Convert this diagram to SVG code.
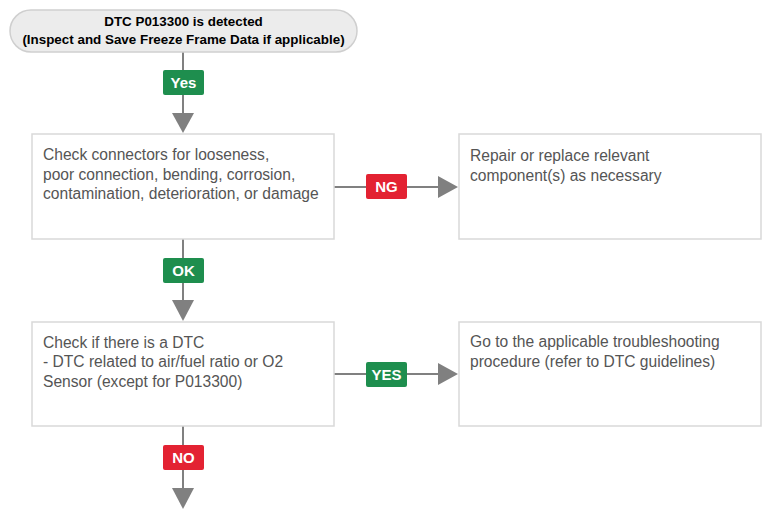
<svg xmlns="http://www.w3.org/2000/svg" width="771" height="518" viewBox="0 0 771 518">
<style>
.box{fill:#fff;stroke:#d9d9d9;stroke-width:1.5}
.pill{fill:#ececec;stroke:#cfcfcf;stroke-width:1.5}
.t{font-family:"Liberation Sans",Arial,sans-serif;font-size:15.6px;fill:#555}
.tt{font-family:"Liberation Sans",Arial,sans-serif;font-size:13.4px;font-weight:bold;fill:#000;text-anchor:middle}
.ln{stroke:#808080;stroke-width:2;fill:none}
.ah{fill:#808080}
.g{fill:#1e8e4e}
.r{fill:#e32232}
.lt{font-family:"Liberation Sans",Arial,sans-serif;font-size:15px;font-weight:bold;fill:#fff;text-anchor:middle}
</style>
<rect width="771" height="518" fill="#fff"/>
<g id="connectors">
<line class="ln" x1="183" y1="52" x2="183" y2="114"/>
<polygon class="ah" points="172,113 194,113 183,133"/>
<line class="ln" x1="183" y1="239" x2="183" y2="301"/>
<polygon class="ah" points="172,300 194,300 183,321"/>
<line class="ln" x1="183" y1="426" x2="183" y2="489"/>
<polygon class="ah" points="172,488 194,488 183,509"/>
<line class="ln" x1="334" y1="187" x2="439" y2="187"/>
<polygon class="ah" points="438,176 438,198 458,187"/>
<line class="ln" x1="334" y1="374" x2="439" y2="374"/>
<polygon class="ah" points="438,363 438,385 458,374"/>
<rect class="g" x="163" y="70" width="41" height="25" rx="2"/>
<text class="lt" x="183.5" y="88">Yes</text>
<rect class="g" x="163" y="258" width="41" height="25" rx="2"/>
<text class="lt" x="183.5" y="276">OK</text>
<rect class="r" x="163" y="445" width="41" height="25" rx="2"/>
<text class="lt" x="183.5" y="463">NO</text>
<rect class="r" x="366" y="174" width="41" height="25" rx="2"/>
<text class="lt" x="386.5" y="192">NG</text>
<rect class="g" x="366" y="362" width="41" height="25" rx="2"/>
<text class="lt" x="386.5" y="380">YES</text>
</g>
<g id="start">
<rect class="pill" x="10" y="10" width="347" height="42" rx="21"/>
<text class="tt" x="183.5" y="26">DTC P013300 is detected</text>
<text class="tt" x="183.5" y="44">(Inspect and Save Freeze Frame Data if applicable)</text>
</g>
<g id="check-connectors">
<rect class="box" x="32" y="134" width="302" height="105"/>
<text class="t" x="43" y="160">Check connectors for looseness,</text>
<text class="t" x="43" y="180">poor connection, bending, corrosion,</text>
<text class="t" x="43" y="199">contamination, deterioration, or damage</text>
</g>
<g id="repair">
<rect class="box" x="459" y="134" width="302" height="105"/>
<text class="t" x="470" y="161">Repair or replace relevant</text>
<text class="t" x="470" y="181">component(s) as necessary</text>
</g>
<g id="check-dtc">
<rect class="box" x="32" y="322" width="302" height="104"/>
<text class="t" x="43" y="348">Check if there is a DTC</text>
<text class="t" x="43" y="367">- DTC related to air/fuel ratio or O2</text>
<text class="t" x="43" y="387">Sensor (except for P013300)</text>
</g>
<g id="troubleshoot">
<rect class="box" x="459" y="322" width="302" height="104"/>
<text class="t" x="470" y="347">Go to the applicable troubleshooting</text>
<text class="t" x="470" y="367">procedure (refer to DTC guidelines)</text>
</g>
</svg>
